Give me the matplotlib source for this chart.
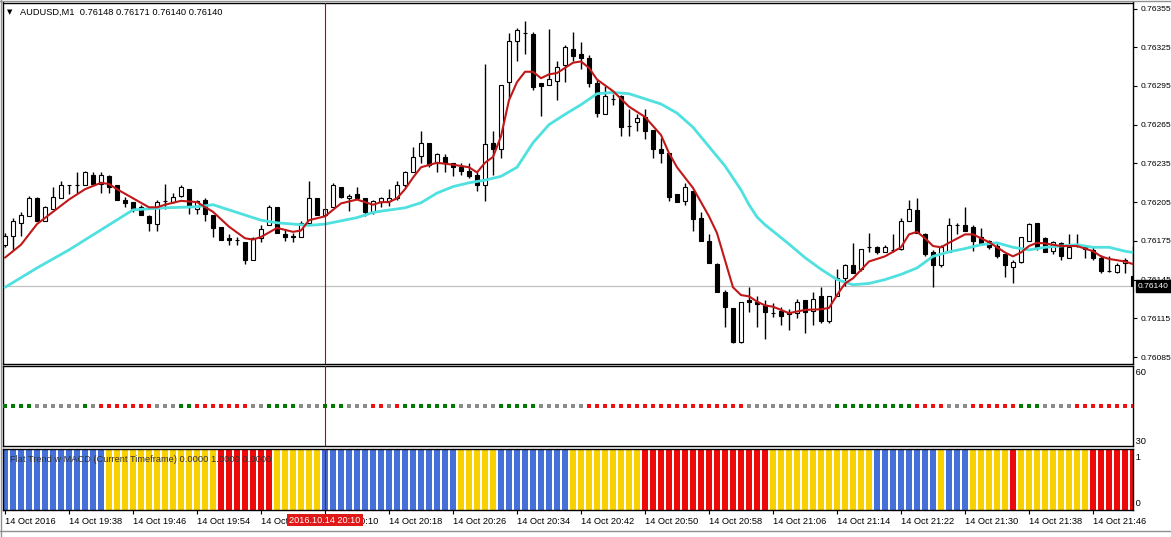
import numpy as np
import matplotlib.pyplot as plt
from matplotlib.lines import Line2D
import matplotlib.transforms as mtrans

plt.rcParams['font.family'] = ['Liberation Sans', 'DejaVu Sans']

# AUDUSD M1, one candle per minute from 14 Oct 19:30
# prices are given in points above 0.76000 (1 point = 0.00001)
BASE = 0.76
PT = 1e-5

opens = [172, 179, 189, 194, 208, 190, 200, 208, 218, 218, 218, 226, 219, 225, 218, 207, 205, 201, 194, 188,
         206, 205, 210, 215, 200, 207, 195, 186, 177, 176, 174, 160, 177, 187, 201, 180, 179, 178, 189, 208,
         195, 201, 217, 208, 211, 208, 197, 205, 206, 208, 218, 228, 241, 251, 235, 240, 235, 232, 229, 226,
         218, 251, 246, 298, 330, 336, 335, 297, 296, 299, 311, 324, 320, 317, 297, 273, 285, 287, 264, 267,
         271, 261, 246, 243, 211, 206, 214, 193, 175, 157, 135, 123, 97, 129, 128, 125, 119, 121, 120, 119,
         129, 121, 132, 113, 132, 146, 156, 153, 170, 170, 166, 168, 169, 190, 199, 180, 166, 156, 166, 187,
         187, 186, 178, 175, 171, 165, 155, 159, 175, 189, 177, 167, 173, 162, 171, 170, 168, 162, 152, 151,
         158, 148]
highs = [181, 193, 197, 210, 209, 202, 217, 221, 218, 228, 229, 228, 228, 226, 218, 209, 205, 203, 195, 207,
         219, 212, 218, 215, 207, 208, 195, 186, 180, 178, 174, 178, 187, 203, 201, 184, 181, 190, 221, 208,
         200, 220, 217, 211, 217, 208, 207, 209, 215, 221, 229, 248, 260, 251, 243, 242, 235, 235, 235, 228,
         312, 260, 296, 336, 340, 345, 337, 297, 339, 314, 327, 337, 329, 319, 300, 295, 289, 288, 277, 273,
         277, 261, 255, 243, 211, 220, 214, 197, 180, 158, 137, 123, 128, 139, 132, 129, 127, 124, 122, 130,
         129, 135, 139, 132, 153, 157, 173, 169, 181, 171, 172, 180, 193, 207, 208, 181, 168, 172, 193, 189,
         201, 187, 185, 176, 173, 165, 160, 178, 189, 189, 178, 175, 174, 180, 180, 170, 170, 164, 163, 158,
         162, 171]
lows = [170, 168, 179, 194, 190, 190, 200, 208, 211, 212, 218, 219, 212, 212, 207, 201, 197, 195, 183, 183,
        200, 204, 209, 196, 196, 190, 178, 176, 172, 172, 157, 160, 174, 187, 181, 175, 174, 178, 189, 195,
        194, 201, 208, 198, 208, 194, 196, 201, 202, 207, 217, 228, 235, 232, 228, 228, 225, 226, 224, 214,
        206, 226, 239, 286, 314, 320, 292, 272, 296, 284, 298, 314, 308, 294, 271, 273, 280, 256, 256, 260,
        254, 239, 235, 206, 205, 203, 183, 175, 158, 135, 108, 96, 96, 120, 108, 99, 116, 110, 106, 115,
        104, 110, 111, 111, 132, 140, 150, 152, 166, 165, 166, 166, 168, 190, 181, 163, 139, 155, 166, 180,
        183, 167, 172, 169, 162, 147, 142, 158, 175, 168, 166, 165, 160, 162, 170, 162, 160, 150, 151, 150,
        150, 140]
closes = [179, 190, 195, 208, 190, 201, 209, 218, 218, 218, 228, 219, 226, 217, 207, 204, 200, 195, 189, 205,
          206, 209, 217, 201, 206, 196, 185, 176, 176, 176, 160, 177, 184, 201, 181, 178, 178, 189, 208, 195,
          200, 218, 209, 210, 208, 197, 206, 208, 208, 218, 228, 240, 251, 234, 242, 235, 232, 229, 225, 218,
          250, 246, 296, 330, 338, 336, 294, 295, 300, 310, 325, 318, 317, 297, 274, 287, 285, 263, 264, 270,
          260, 246, 243, 209, 205, 217, 192, 175, 158, 135, 124, 97, 128, 128, 126, 120, 119, 117, 118, 128,
          120, 130, 113, 132, 146, 156, 150, 169, 170, 166, 170, 168, 190, 200, 181, 165, 156, 170, 187, 187,
          183, 175, 173, 170, 163, 156, 159, 178, 188, 170, 166, 174, 163, 170, 171, 169, 162, 152, 152, 156,
          160, 140]

# fast (red) and slow (cyan) moving averages, read at these bars
red_bars = [0, 2, 4, 6, 8, 10, 12, 13, 14, 16, 18, 19, 20, 22, 24, 26, 28, 30, 31, 32, 34, 36, 37, 38, 40,
            42, 44, 46, 47, 48, 49, 50, 51, 52, 54, 56, 58, 59, 60, 61, 62, 63, 64, 65, 66, 67, 68, 69, 70,
            71, 72, 73, 74, 76, 78, 80, 82, 83, 84, 86, 88, 89, 90, 91, 92, 93, 94, 95, 96, 97, 98, 100, 102,
            103, 104, 105, 106, 107, 108, 110, 112, 113, 114, 115, 116, 117, 118, 120, 121, 122, 123, 124,
            125, 126, 127, 128, 129, 130, 132, 134, 136, 137, 138, 140, 141]
red_ma = [162, 172, 188, 197.5, 207, 215, 220, 219, 215, 208, 201, 201, 203, 206, 205, 197.5, 186, 177, 176,
          178, 185, 182, 183, 191, 194, 204, 207, 203, 205, 205, 208, 215, 224, 232, 235.5, 234, 232, 228,
          235.5, 240, 256, 284, 298, 306, 306, 301, 304, 305, 309, 313, 314, 309, 300, 291, 279, 271, 257,
          243, 232, 216, 194, 181, 160, 139, 133, 132, 128, 125, 124, 121.5, 119, 121.5, 122, 123, 133, 142,
          146, 152.5, 159, 163, 170, 180, 182, 177, 171, 170, 173.5, 180, 180, 177, 174, 170, 166, 163, 166,
          171, 173.5, 173, 171, 171, 167, 163, 161, 159, 157]
cyan_bars = [0, 4, 8, 12, 16, 20, 24, 26, 28, 32, 34, 36, 38, 40, 44, 46, 47, 50, 52, 54, 56, 58, 60, 62,
             64, 66, 68, 70, 72, 74, 76, 78, 80, 82, 84, 86, 88, 90, 92, 93, 94, 95, 96, 98, 100, 102, 104,
             106, 108, 110, 112, 114, 116, 118, 120, 122, 124, 126, 128, 130, 132, 134, 136, 138, 140, 141]
cyan_ma = [139, 154, 168, 183.5, 199, 200.6, 201.4, 203, 199, 191, 189, 188, 187, 188, 193, 197, 198, 200.6,
           204.5, 212, 217, 220, 222, 225, 232, 251, 265, 273, 280.5, 289, 290, 289, 285, 281, 274, 263, 248,
           233, 214.5, 203, 193.5, 187.5, 182.5, 172.5, 162, 153, 145, 141, 142, 145, 149, 154, 163, 166.5,
           169, 172, 173.5, 170, 168, 170, 171, 172, 170, 170, 167, 166]

current_price = 140
price_ticks = [85, 115, 145, 175, 205, 235, 265, 295, 325, 355]

# middle window: coloured state dots (G green, N grey, R red)
dot_runs = [('G', 4), ('N', 6), ('G', 1), ('N', 1), ('R', 7), ('N', 3), ('G', 2), ('R', 7), ('N', 2),
            ('G', 4), ('N', 3), ('G', 3), ('N', 3), ('R', 2), ('N', 1), ('R', 1),
            ('G', 7), ('N', 5), ('G', 5), ('N', 6), ('R', 20), ('N', 11), ('G', 10), ('R', 4), ('N', 3),
            ('R', 6), ('G', 3), ('N', 4), ('R', 8)]
dot_level = 45

# bottom window: Flat Trend w MACD histogram (B blue, Y yellow, R red)
trend_runs = [('B', 13), ('Y', 14), ('R', 7), ('Y', 6), ('B', 17), ('Y', 5), ('B', 9), ('Y', 9), ('R', 16),
              ('Y', 13), ('B', 8), ('Y', 1), ('B', 3), ('Y', 5), ('R', 1), ('Y', 9), ('R', 6)]

time_labels = ['14 Oct 2016', '14 Oct 19:38', '14 Oct 19:46', '14 Oct 19:54', '14 Oct 20:02', '14 Oct 20:10',
               '14 Oct 20:18', '14 Oct 20:26', '14 Oct 20:34', '14 Oct 20:42', '14 Oct 20:50', '14 Oct 20:58',
               '14 Oct 21:06', '14 Oct 21:14', '14 Oct 21:22', '14 Oct 21:30', '14 Oct 21:38', '14 Oct 21:46']
cursor_bar = 40

# ---------------------------------------------------------------
o = BASE + np.array(opens) * PT
h = BASE + np.array(highs) * PT
l = BASE + np.array(lows) * PT
c = BASE + np.array(closes) * PT
n = len(o)
x = np.arange(n)

W, H = 1171, 537
FS = 6.7
FS_R = 6.1   # right price scale, kept inside the picture
fig = plt.figure(figsize=(W / 100, H / 100), dpi=100)
fig.patch.set_facecolor('white')


def panel(top, bottom):
    return fig.add_axes([3 / W, 1 - bottom / H, 1130 / W, (bottom - top) / H])


ax1 = panel(2.5, 364)
ax2 = panel(366, 446)
ax3 = panel(448.5, 510)

xlim = (-0.25, 141.0)
for ax in (ax1, ax2, ax3):
    ax.set_xlim(*xlim)
    for sp in ax.spines.values():
        sp.set_color('black')
        sp.set_linewidth(1)
    ax.tick_params(axis='x', which='both', bottom=False, labelbottom=False)
    ax.tick_params(axis='y', which='both', left=False, labelleft=False)

# --- main price window
ax1.set_ylim(BASE + 79.6 * PT, BASE + 359.65 * PT)
up = c >= o
ax1.vlines(x, l, h, color='black', lw=1, zorder=2)
ax1.bar(x, np.abs(c - o), bottom=np.minimum(o, c), width=0.62,
        color=np.where(up, 'white', 'black'), edgecolor='black', linewidth=0.8, zorder=3)
ax1.plot(cyan_bars, BASE + np.array(cyan_ma) * PT, color='#4fe0e0', lw=2.0, zorder=4,
         solid_capstyle='round', solid_joinstyle='round')
ax1.plot(red_bars, BASE + np.array(red_ma) * PT, color='#c01818', lw=1.5, zorder=5,
         solid_capstyle='round', solid_joinstyle='round')
ax1.axhline(BASE + current_price * PT, color='#c0c0c0', lw=0.9, zorder=1)

ax1.yaxis.tick_right()
ax1.set_yticks([BASE + v * PT for v in price_ticks])
ax1.set_yticklabels([f'{BASE + v * PT:.5f}' for v in price_ticks])
ax1.tick_params(axis='y', right=True, labelright=True, length=3, width=0.8, pad=2.5,
                labelsize=FS_R, colors='black')
ax1.annotate(f'{BASE + current_price * PT:.5f}', xy=(1.0, BASE + current_price * PT),
             xycoords=('axes fraction', 'data'), xytext=(3.5, 0), textcoords='offset points',
             ha='left', va='center', fontsize=FS_R, color='white', zorder=10, annotation_clip=False,
             bbox=dict(boxstyle='square,pad=0.25', fc='black', ec='black'))

fig.text(7 / W, 1 - 12 / H, '\u25bc', fontsize=5, va='center', ha='left', family=['DejaVu Sans'])
fig.text(20 / W, 1 - 12 / H, 'AUDUSD,M1  0.76148 0.76171 0.76140 0.76140', fontsize=FS,
         va='center', ha='left', color='black')

# --- state dots window
dot_colors = {'G': '#007a00', 'N': '#8c8c8c', 'R': '#ee1111'}
dots = ''.join(k * m for k, m in dot_runs)
ax2.set_ylim(30, 60)
ax2.scatter(x, np.full(n, dot_level), marker='s', s=11, c=[dot_colors[k] for k in dots],
            linewidths=0, zorder=3)
ax2.text(1.0, 0.97, ' 60', transform=ax2.transAxes, ha='left', va='top', fontsize=FS)
ax2.text(1.0, 0.0, ' 30', transform=ax2.transAxes, ha='left', va='bottom', fontsize=FS)

# --- Flat Trend histogram window
trend_colors = {'B': '#4470d8', 'Y': '#f8d000', 'R': '#ee0a0a'}
trend = ''.join(k * m for k, m in trend_runs)
ax3.set_ylim(0, 1)
ax3.bar(x, np.ones(n), width=0.82, color=[trend_colors[k] for k in trend], linewidth=0, zorder=2)
ax3.text(0.006, 0.82, 'Flat Trend w MACD (Current Timeframe) 0.0000 1.0000 0.0000',
         transform=ax3.transAxes, ha='left', va='center', fontsize=FS, color='#333333', zorder=4)
ax3.text(1.0, 0.93, ' 1', transform=ax3.transAxes, ha='left', va='top', fontsize=FS)
ax3.text(1.0, 0.03, ' 0', transform=ax3.transAxes, ha='left', va='bottom', fontsize=FS)

ax3.set_xticks(x[::8][:len(time_labels)])
ax3.set_xticklabels(time_labels)
ax3.tick_params(axis='x', bottom=True, labelbottom=True, length=3, width=0.8, pad=2,
                labelsize=FS)
for t in ax3.get_xticklabels():
    t.set_ha('left')

# --- cursor line and its time box
for ax in (ax1, ax2, ax3):
    ax.axvline(cursor_bar, color='#c80000', lw=0.8, zorder=6)
ax3.text(cursor_bar, -0.165, '2016.10.14 20:10',
         transform=mtrans.blended_transform_factory(ax3.transData, ax3.transAxes),
         ha='center', va='center', fontsize=6.6, color='white', zorder=10, clip_on=False,
         bbox=dict(boxstyle='square,pad=0.2', fc='#e01818', ec='none'))

# window frame
fig.add_artist(Line2D([0, 1], [1 - 0.5 / H] * 2, color='#909090', lw=1))
fig.add_artist(Line2D([0.8 / W] * 2, [0, 1], color='#909090', lw=1))
fig.add_artist(Line2D([0, 1], [1 - 531 / H] * 2, color='#909090', lw=1))

fig.savefig('out.png', dpi=100, facecolor='white')
